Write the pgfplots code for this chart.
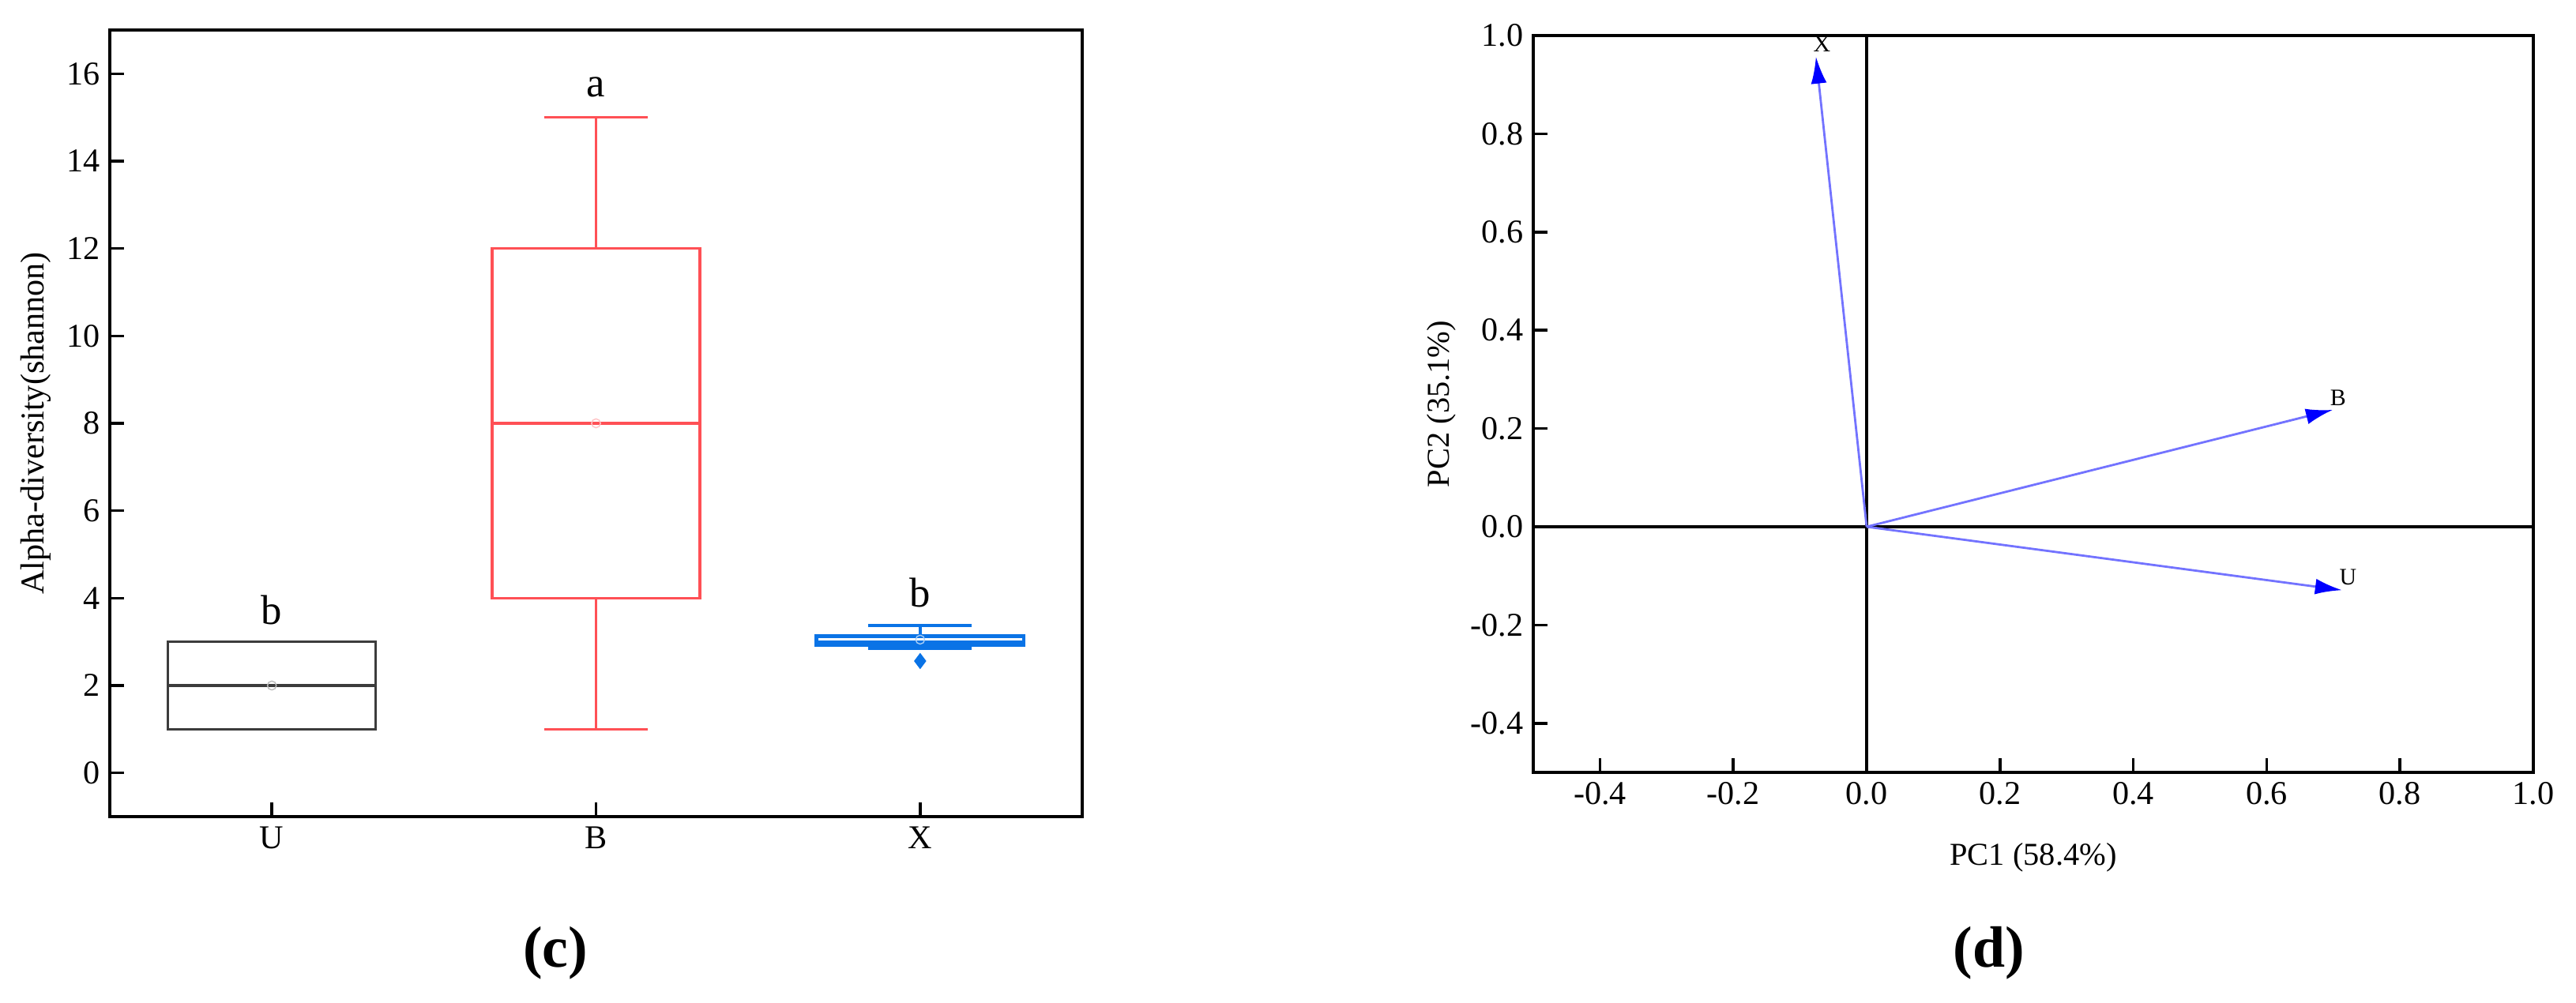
\documentclass[border=0pt]{standalone}
\usepackage{fontspec}
\setmainfont{Liberation Serif}
\usepackage{pgfplots}
\pgfplotsset{compat=1.18}
\usepgfplotslibrary{statistics}
\usetikzlibrary{arrows.meta}

\definecolor{ugray}{RGB}{60,60,60}
\definecolor{bred}{RGB}{255,80,85}
\definecolor{xblue}{RGB}{10,115,230}
\definecolor{arrline}{RGB}{115,115,255}

\begin{document}
\begin{tikzpicture}
\path[use as bounding box] (0,0) rectangle (32.61,12.7);

\pgfplotsset{
  common/.style={
    scale only axis,
    anchor=south west,
    tick align=inside,
    xtick pos=bottom,
    ytick pos=left,
    major tick length=0.18cm,
    axis line style={line width=1.1pt},
    every tick/.style={black, line width=1pt},
    /pgf/number format/assume math mode=true,
    tick label style={font=\fontsize{12}{14}\selectfont},
  }
}

% (c) boxplot
\begin{axis}[common,
  at={(1.39cm,2.36cm)}, width=12.31cm, height=9.96cm,
  xmin=0.5, xmax=3.5, ymin=-1, ymax=17,
  xtick={1,2,3}, xticklabels={U,B,X},
  ytick={0,2,4,6,8,10,12,14,16},
  ylabel={Alpha-diversity(shannon)},
  label style={font=\fontsize{12}{14}\selectfont},
  ylabel style={at={(axis description cs:-0.076,0.5)}, anchor=center},
  boxplot/draw direction=y,
]
\addplot[draw=ugray, line width=0.9pt, solid, mark=none,
  boxplot prepared={draw position=1, lower whisker=1, lower quartile=1,
    median=2, upper quartile=3, upper whisker=3,
    box extend=0.64, whisker extend=0.32}] coordinates {};
\addplot[draw=bred, line width=1pt, solid, mark=none,
  boxplot prepared={draw position=2, lower whisker=1, lower quartile=4,
    median=8, upper quartile=12, upper whisker=15,
    box extend=0.64, whisker extend=0.32}] coordinates {};
\addplot[draw=xblue, line width=1.2pt, solid, mark=none,
  boxplot prepared={draw position=3, lower whisker=2.86, lower quartile=2.92,
    median=3.0, upper quartile=3.13, upper whisker=3.37,
    box extend=0.64, whisker extend=0.32}] coordinates {};
% means
\addplot[only marks, mark=o, mark size=1.6pt, ugray!35] coordinates {(1,2)};
\addplot[only marks, mark=o, mark size=1.6pt, bred!35] coordinates {(2,8)};
\addplot[only marks, mark=o, mark size=1.6pt, xblue!35] coordinates {(3,3.05)};
% outlier
\addplot[only marks, mark=diamond*, mark size=2.6pt, xblue] coordinates {(3,2.56)};
% letters
\node[font=\fontsize{15}{17}\selectfont] at (axis cs:1,3.72) {b};
\node[font=\fontsize{15}{17}\selectfont] at (axis cs:2,15.7) {a};
\node[font=\fontsize{15}{17}\selectfont] at (axis cs:3,4.12) {b};
\end{axis}

% (d) PCA loadings
\begin{axis}[common,
  at={(19.41cm,2.92cm)}, width=12.66cm, height=9.33cm,
  xmin=-0.5, xmax=1, ymin=-0.5, ymax=1,
  xtick={-0.4,-0.2,0,0.2,0.4,0.6,0.8,1},
  ytick={-0.4,-0.2,0,0.2,0.4,0.6,0.8,1},
  xticklabel style={/pgf/number format/.cd, fixed, fixed zerofill, precision=1},
  yticklabel style={/pgf/number format/.cd, fixed, fixed zerofill, precision=1},
  xlabel={PC1 (58.4\%)},
  ylabel={PC2 (35.1\%)},
  label style={font=\fontsize{11.5}{13}\selectfont},
  xlabel style={at={(axis description cs:0.5,-0.115)}, anchor=center},
  ylabel style={at={(axis description cs:-0.092,0.5)}, anchor=center},
]
\addplot[black, line width=1.1pt] coordinates {(-0.5,0) (1,0)};
\addplot[black, line width=1.1pt] coordinates {(0,-0.5) (0,1)};
\addplot[arrline, line width=0.8pt, -{Latex[length=0.34cm,width=0.2cm,color=blue]}]
  coordinates {(0,0) (-0.076,0.957)};
\addplot[arrline, line width=0.8pt, -{Latex[length=0.34cm,width=0.2cm,color=blue]}]
  coordinates {(0,0) (0.699,0.238)};
\addplot[arrline, line width=0.8pt, -{Latex[length=0.34cm,width=0.2cm,color=blue]}]
  coordinates {(0,0) (0.713,-0.129)};
\node[font=\fontsize{8.5}{10}\selectfont] at (axis cs:-0.067,0.983) {X};
\node[font=\fontsize{8.5}{10}\selectfont] at (axis cs:0.707,0.262) {B};
\node[font=\fontsize{8.5}{10}\selectfont] at (axis cs:0.722,-0.103) {U};
\end{axis}

\node[font=\bfseries\fontsize{21}{24}\selectfont] at (7.03,0.63) {(c)};
\node[font=\bfseries\fontsize{21}{24}\selectfont] at (25.18,0.63) {(d)};
\end{tikzpicture}
\end{document}
